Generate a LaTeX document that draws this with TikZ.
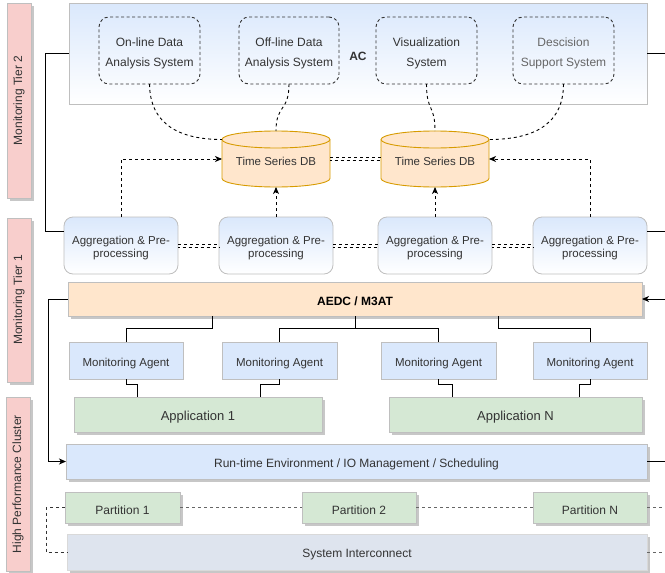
\documentclass[tikz,border=0pt]{standalone}
\usepackage{fontspec}
\setmainfont{Liberation Sans}
\usetikzlibrary{arrows.meta,shadows,calc}
\definecolor{txt}{HTML}{333333}
\definecolor{txtlight}{HTML}{666666}
\definecolor{bluefill}{HTML}{DAE8FC}
\definecolor{greenfill}{HTML}{D5E8D4}
\definecolor{orangefill}{HTML}{FFE6CC}
\definecolor{dbline}{HTML}{D79B00}
\definecolor{pinkfill}{HTML}{F8CECC}
\definecolor{sicfill}{HTML}{DEE4EE}
\definecolor{boxline}{HTML}{BFBFBF}
\newcommand{\mybox}[7]{\node[#1, minimum width={(#4)-(#2)}, minimum height={(#5)-(#3)}] (#6) at ({((#2)+(#4))/2},{((#3)+(#5))/2}) {\rule{0pt}{13.8pt}#7};}
\newcommand{\mycyl}[6]{%
  \filldraw[fill=orangefill, draw=dbline, line width=0.9pt] (#2,#3+8.5) -- (#2,#5-8.5) arc[start angle=180,end angle=0,x radius={((#4)-(#2))/2},y radius=8.5] -- (#4,#3+8.5) arc[start angle=0,end angle=-180,x radius={((#4)-(#2))/2},y radius=8.5] -- cycle;
  \draw[draw=dbline, line width=0.9pt] (#2,#3+8.5) arc[start angle=180,end angle=0,x radius={((#4)-(#2))/2},y radius=8.5];
  \mybox{dbtext}{#2}{#3}{#4}{#5}{#1}{#6}}
\begin{document}
\begin{tikzpicture}[x=1pt,y=-1pt,
  base/.style={inner sep=0pt, outer sep=0pt, align=center, text=txt, font=\fontsize{11.5}{13.5}\selectfont},
  shd/.style={drop shadow={shadow xshift=2.5pt, shadow yshift=-2.5pt, fill=black, opacity=0.22}},
  tier/.style={base, fill=pinkfill, draw=boxline, line width=0.8pt, shd},
  tiertext/.style={base, rotate=90, font=\fontsize{12}{14}\selectfont},
  acbox/.style={base, draw=boxline, line width=0.8pt, top color=bluefill, bottom color=white, font=\fontsize{12}{14}\selectfont\bfseries},
  sysbox/.style={base, draw=txt, line width=0.9pt, dash pattern=on 3pt off 2.5pt, rounded corners=10pt, font=\fontsize{12}{20}\selectfont},
  dbtext/.style={base, font=\fontsize{11.5}{13.5}\selectfont},
  aggbox/.style={base, draw=boxline, line width=0.8pt, rounded corners=9pt, top color=bluefill, bottom color=white},
  aedcbox/.style={base, fill=orangefill, draw=boxline, line width=0.8pt, shd, font=\fontsize{12}{14}\selectfont\bfseries, text=black},
  agentbox/.style={base, fill=bluefill, draw=boxline, line width=0.8pt},
  appbox/.style={base, fill=greenfill, draw=boxline, line width=0.8pt, shd, font=\fontsize{13}{15}\selectfont},
  rtebox/.style={base, fill=bluefill, draw=boxline, line width=0.8pt, shd, font=\fontsize{12}{14}\selectfont},
  partbox/.style={base, fill=greenfill, draw=boxline, line width=0.8pt, shd, font=\fontsize{12}{14}\selectfont},
  sicbox/.style={base, fill=sicfill, draw=boxline!60, line width=0.8pt, shd, font=\fontsize{12}{14}\selectfont},
  solidcon/.style={draw=black, line width=0.9pt},
  dcon/.style={draw=black, line width=0.9pt, dash pattern=on 3pt off 3pt},
  pcon/.style={draw=txtlight, line width=0.9pt, dash pattern=on 3pt off 3pt},
  arr/.style={-{Stealth[length=7pt,width=6pt,inset=2pt]}},
]
\useasboundingbox (0,0) rectangle (665,573);

% tier labels
\mybox{tier}{7}{3}{31}{198}{t2}{}
\node[tiertext] at (t2) {Monitoring Tier 2};
\mybox{tier}{7}{218}{31}{382}{t1}{}
\node[tiertext] at (t1) {Monitoring Tier 1};
\mybox{tier}{6}{397}{30}{571}{hpc}{}
\node[tiertext] at (hpc) {High Performance Cluster};

% AC container
\mybox{acbox}{69}{3}{647}{104}{ac}{AC}
\mybox{sysbox}{99}{17}{200}{84}{onl}{On-line Data\\Analysis System}
\mybox{sysbox}{239}{17}{339}{84}{offl}{Off-line Data\\Analysis System}
\mybox{sysbox}{376}{17}{477}{84}{vis}{Visualization\\System}
\mybox{sysbox, text=txtlight}{513}{17}{614}{84}{dss}{Descision\\Support System}

% databases
\mycyl{db1}{222}{131}{330}{187}{Time Series DB}
\mycyl{db2}{381}{131}{489}{187}{Time Series DB}

% aggregation
\mybox{aggbox}{64}{217}{178}{274}{agg1}{Aggregation \& Pre-\\processing}
\mybox{aggbox}{219}{217}{333}{274}{agg2}{Aggregation \& Pre-\\processing}
\mybox{aggbox}{378}{217}{492}{274}{agg3}{Aggregation \& Pre-\\processing}
\mybox{aggbox}{533}{217}{647}{274}{agg4}{Aggregation \& Pre-\\processing}

% AEDC
\mybox{aedcbox}{68}{282}{642}{316}{aedc}{AEDC / M3AT}

% agents
\mybox{agentbox}{69}{342}{183}{379}{ma1}{Monitoring Agent}
\mybox{agentbox}{222}{342}{337}{379}{ma2}{Monitoring Agent}
\mybox{agentbox}{381}{342}{496}{379}{ma3}{Monitoring Agent}
\mybox{agentbox}{533}{342}{647}{379}{ma4}{Monitoring Agent}

% applications
\mybox{appbox}{74}{397}{322}{432}{app1}{Application 1}
\mybox{appbox}{389}{397}{642}{432}{appN}{Application N}

% runtime
\mybox{rtebox}{66}{444}{647}{479}{rte}{Run-time Environment / IO Management / Scheduling}

% partitions
\mybox{partbox}{65}{492}{180}{523}{p1}{Partition 1}
\mybox{partbox}{302}{492}{416}{523}{p2}{Partition 2}
\mybox{partbox}{533}{492}{647}{523}{pN}{Partition N}

% interconnect
\mybox{sicbox}{67}{534}{647}{570}{sic}{System Interconnect}

% right-edge coordinates
\coordinate (r1) at (665,53.5);
\coordinate (r2) at (665,231.5);
\coordinate (r3) at (665,299);
\coordinate (r4) at (665,461.5);
\coordinate (r5) at (665,507.5);
\coordinate (r6) at (665,552);

% solid connectors
\draw[solidcon] (ac.west) -- ++(-24,0) |- ([yshift=14pt]agg1.west);
\draw[solidcon] (ac.east) -- (r1);
\draw[solidcon] ([yshift=14pt]agg4.east) -- (r2);
\draw[solidcon, arr] (r3) -- (aedc.east);
\draw[solidcon] (rte.east) -- (r4);
\draw[solidcon, arr] (aedc.west) -- ++(-20,0) |- (rte.west);

\draw[solidcon] ([xshift=144pt]aedc.south west) -- ++(0,12) -| (ma1.north);
\draw[solidcon] (aedc.south) -- ++(0,12) -| (ma2.north);
\draw[solidcon] (aedc.south) -- ++(0,12) -| (ma3.north);
\draw[solidcon] ([xshift=-144pt]aedc.south east) -- ++(0,12) -| (ma4.north);

\draw[solidcon] (ma1.south) -- ++(0,5) -| ([xshift=63pt]app1.north west);
\draw[solidcon] (ma2.south) -- ++(0,5) -| ([xshift=186pt]app1.north west);
\draw[solidcon] (ma3.south) -- ++(0,5) -| ([xshift=63pt]appN.north west);
\draw[solidcon] (ma4.south) -- ++(0,5) -| ([xshift=190pt]appN.north west);

% dashed arrows to DBs
\draw[dcon, arr] (agg1.north) |- (db1.west);
\draw[dcon, arr] (agg2.north) -- (db1.south);
\draw[dcon, arr] (agg3.north) -- (db2.south);
\draw[dcon, arr] (agg4.north) |- (db2.east);

% double dashed links
\draw[dcon] ([yshift=1.8pt]db1.east) -- ([yshift=1.8pt]db2.west);
\draw[dcon, dash phase=1.5pt] ([yshift=-1.8pt]db1.east) -- ([yshift=-1.8pt]db2.west);
\foreach \a/\b in {agg1/agg2, agg2/agg3, agg3/agg4}{
  \draw[dcon] ([yshift=1.5pt]\a.east) -- ([yshift=1.5pt]\b.west);
  \draw[dcon, dash phase=1.5pt] ([yshift=-1.5pt]\a.east) -- ([yshift=-1.5pt]\b.west);
}

% AC systems to DBs
\draw[dcon] (onl.south) .. controls (150,128) and (185,139.5) .. ([yshift=19.5pt]db1.west);
\draw[dcon] (offl.south) .. controls (289,112) and (276,104) .. (db1.north);
\draw[dcon] (vis.south) .. controls (426.5,112) and (435,104) .. (db2.north);
\draw[dcon] (dss.south) .. controls (563.5,128) and (528,139.5) .. ([yshift=19.5pt]db2.east);

% partition links
\draw[pcon] (p1.east) -- (p2.west);
\draw[pcon] (p2.east) -- (pN.west);
\draw[pcon] (pN.east) -- (r5);
\draw[pcon] (sic.east) -- (r6);
\draw[dcon, draw=txt] (p1.west) -- ++(-19,0) |- (sic.west);
\end{tikzpicture}
\end{document}
